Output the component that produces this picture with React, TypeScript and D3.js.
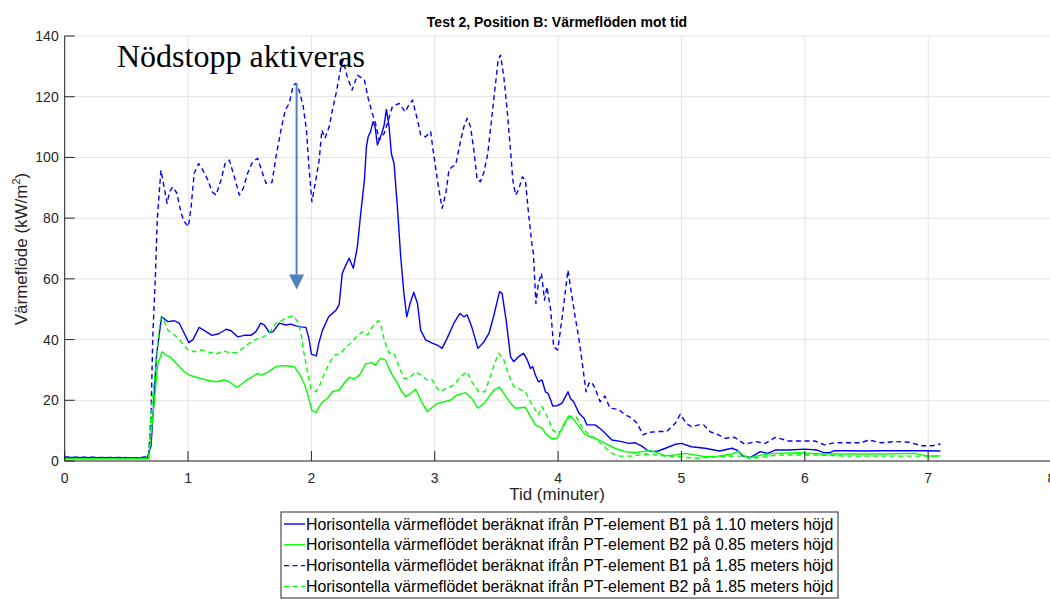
import React from "react";
import * as d3 from "d3";

type Pt = [number, number];

const xTickValues = [0, 1, 2, 3, 4, 5, 6, 7, 8];
const yTickValues = [0, 20, 40, 60, 80, 100, 120, 140];

const seriesNames = [
  "Horisontella värmeflödet beräknat ifrån PT-element B1 på 1.10 meters höjd",
  "Horisontella värmeflödet beräknat ifrån PT-element B2 på 0.85 meters höjd",
  "Horisontella värmeflödet beräknat ifrån PT-element B1 på 1.85 meters höjd",
  "Horisontella värmeflödet beräknat ifrån PT-element B2 på 1.85 meters höjd",
];
const seriesColors = ["#0000ff", "#00ff00", "#0000ff", "#00ff00"];
const seriesDashed = [false, false, true, true];

const b1Low: Pt[] = [[0,1.2],[0.3,1.1],[0.6,1.0],[0.67,1.1],[0.7,5],[0.72,18],[0.745,35],[0.785,47.5],[0.836,45.9],[0.89,46.2],[0.93,45.3],[0.97,42],[1.006,39],[1.04,40],[1.09,44],[1.146,42.6],[1.195,41.4],[1.254,42],[1.308,43.4],[1.349,42.9],[1.402,40.9],[1.456,41.4],[1.51,41.4],[1.55,42.6],[1.59,45.4],[1.618,44.8],[1.66,42.3],[1.69,42.6],[1.74,45.4],[1.794,44.8],[1.834,45.1],[1.874,44.5],[1.915,44.2],[1.955,44],[1.98,40.4],[2.0,35.2],[2.04,34.6],[2.06,38.8],[2.09,43.1],[2.14,47.5],[2.2,49.7],[2.225,51.5],[2.25,61.8],[2.28,64.6],[2.306,66.8],[2.34,63.5],[2.373,70.6],[2.40,81.6],[2.43,92.6],[2.446,103.5],[2.46,106.8],[2.48,108.5],[2.5,111.8],[2.516,110.1],[2.535,104.1],[2.55,105.7],[2.57,107.9],[2.59,110.7],[2.608,115.8],[2.63,110.1],[2.648,101.3],[2.67,98],[2.697,83.8],[2.724,67.3],[2.75,55.2],[2.773,47.5],[2.8,51.9],[2.83,55.6],[2.86,51.9],[2.886,43.1],[2.926,39.9],[2.98,38.8],[3.02,38.2],[3.06,37.1],[3.10,40.4],[3.155,45.4],[3.204,48.6],[3.236,47.5],[3.263,48.1],[3.30,44.2],[3.35,37.1],[3.40,39.3],[3.44,42.1],[3.48,48.1],[3.525,55.8],[3.546,55.2],[3.58,46],[3.614,34.4],[3.64,32.7],[3.68,34.4],[3.72,35.5],[3.75,33.3],[3.776,30.5],[3.794,31.1],[3.816,28.3],[3.84,26.1],[3.87,26.7],[3.897,22.8],[3.918,22.3],[3.94,20.1],[3.956,18.1],[3.99,18.2],[4.03,19],[4.06,21.2],[4.08,22.8],[4.10,20.6],[4.126,19.5],[4.17,15.7],[4.21,14.1],[4.234,11.9],[4.30,11.9],[4.355,10.2],[4.436,6.9],[4.517,6.4],[4.57,5.8],[4.625,6.0],[4.68,4.9],[4.72,3.6],[4.76,3.1],[4.81,3.3],[4.87,4.2],[4.95,5.5],[5.0,5.8],[5.08,4.7],[5.19,4.2],[5.31,3.3],[5.41,4.2],[5.45,3.6],[5.50,1.6],[5.56,1.2],[5.64,3.1],[5.70,2.5],[5.76,3.6],[5.87,3.6],[6.0,3.9],[6.1,3.6],[6.16,2.7],[6.20,2.7],[6.24,3.4],[6.35,3.4],[6.49,3.3],[6.62,3.4],[6.78,3.4],[6.97,3.4],[7.10,3.3]];

const b2Low: Pt[] = [[0,0.8],[0.3,0.7],[0.6,0.7],[0.68,0.8],[0.69,4.7],[0.73,21],[0.755,32],[0.79,36],[0.82,34.9],[0.86,34.1],[0.917,31.6],[0.97,29.4],[1.01,28.3],[1.066,27.6],[1.146,26.7],[1.227,26.1],[1.294,26.7],[1.335,26.1],[1.394,24.3],[1.443,25.6],[1.483,26.9],[1.524,27.8],[1.564,28.9],[1.59,28.3],[1.632,28.9],[1.672,30],[1.713,31.1],[1.753,31.4],[1.82,31.3],[1.86,31.1],[1.90,28.9],[1.94,25.6],[1.968,22.3],[2.004,16.6],[2.036,15.9],[2.063,17.9],[2.09,19.5],[2.13,20.6],[2.17,22.8],[2.225,23.4],[2.265,25.6],[2.306,27.6],[2.346,27],[2.39,28.3],[2.44,32],[2.49,32.4],[2.52,31.6],[2.56,33.8],[2.60,33.3],[2.63,30.5],[2.656,28.3],[2.70,25.6],[2.724,23.4],[2.765,21.2],[2.805,22.3],[2.845,23.6],[2.886,20.1],[2.94,16.2],[2.98,17.7],[3.02,19],[3.074,19.5],[3.13,20.1],[3.18,21.7],[3.25,22.5],[3.30,20.6],[3.35,17.4],[3.40,19],[3.44,21.2],[3.48,23.4],[3.525,24.3],[3.57,21.7],[3.614,19],[3.655,17.4],[3.735,17.7],[3.776,14.6],[3.816,11.9],[3.84,11.3],[3.87,10.8],[3.897,9.1],[3.92,8.3],[3.95,7.3],[3.99,7.5],[4.03,10.5],[4.05,12.4],[4.086,14.9],[4.126,13.7],[4.17,11.3],[4.22,8.6],[4.30,7.5],[4.38,5.8],[4.46,4.2],[4.54,3.1],[4.625,2.7],[4.68,3.1],[4.745,3.4],[4.81,2.7],[4.87,1.7],[4.95,2],[5.03,2.5],[5.11,2],[5.19,1.4],[5.30,1.6],[5.41,2.3],[5.46,3.1],[5.54,0.9],[5.65,2],[5.76,2.5],[5.95,2.7],[6.13,2.3],[6.35,2.3],[6.62,2.3],[6.89,2.5],[7.0,1.6],[7.10,1.7]];

const b1High: Pt[] = [[0,1.3],[0.3,1.2],[0.6,1.1],[0.68,1.5],[0.7,15],[0.714,41],[0.736,61.8],[0.75,79.4],[0.77,90.3],[0.78,95.8],[0.80,91.5],[0.83,84.9],[0.85,88.7],[0.876,90.3],[0.91,88.2],[0.944,81.6],[0.97,78.8],[1.003,77.2],[1.025,83.8],[1.05,94.8],[1.087,98],[1.12,95.8],[1.16,92.6],[1.195,88.7],[1.227,87.6],[1.268,92.6],[1.30,98],[1.335,99.1],[1.375,93.6],[1.416,87.6],[1.448,89.8],[1.483,94.8],[1.524,98.6],[1.564,99.7],[1.60,95.3],[1.632,91.5],[1.68,91.7],[1.713,100.2],[1.753,109],[1.788,115.6],[1.82,117.8],[1.853,123.8],[1.875,124.4],[1.90,122.2],[1.934,116.7],[1.96,109],[1.98,96.9],[2.004,85.4],[2.036,92.6],[2.063,99.1],[2.085,109],[2.11,106.3],[2.144,110.1],[2.17,115.6],[2.20,121.1],[2.24,129.9],[2.257,132.1],[2.29,126.6],[2.33,122.2],[2.373,127.1],[2.43,125.5],[2.46,119.5],[2.494,114.5],[2.52,111.2],[2.55,105.7],[2.59,107.9],[2.616,111.2],[2.656,116.7],[2.71,117.8],[2.76,115],[2.79,117.3],[2.82,118.9],[2.86,112.3],[2.886,107.4],[2.926,106.8],[2.967,108.5],[2.99,101.3],[3.03,90.3],[3.06,83.2],[3.09,88.2],[3.115,95.8],[3.14,96.9],[3.17,97.5],[3.21,105.7],[3.236,110.1],[3.263,112.9],[3.29,110.1],[3.317,102.4],[3.344,92.6],[3.37,92],[3.40,95.3],[3.43,101.3],[3.46,112.3],[3.49,123.3],[3.514,132.1],[3.533,133.7],[3.56,126.6],[3.587,115.6],[3.614,102.4],[3.633,92.6],[3.655,87.6],[3.68,89.3],[3.71,93.6],[3.735,92.6],[3.76,81.6],[3.79,70.6],[3.80,68.4],[3.82,51.9],[3.84,58.5],[3.865,61.8],[3.89,53],[3.91,57.4],[3.94,49.7],[3.964,37.6],[3.997,36.6],[4.03,46.4],[4.06,56.3],[4.08,62.9],[4.10,57.4],[4.134,48.6],[4.17,39.9],[4.20,31.1],[4.226,22.8],[4.25,25.6],[4.27,26.1],[4.30,23.9],[4.34,19.5],[4.38,21.4],[4.42,17.4],[4.49,17],[4.544,15.2],[4.60,14.1],[4.64,12.4],[4.69,8.6],[4.73,9.4],[4.81,9.7],[4.88,9.7],[4.95,12.4],[4.99,15.4],[5.04,12.4],[5.08,11.3],[5.14,11.9],[5.18,11.9],[5.23,9.7],[5.30,8.6],[5.35,7.5],[5.43,7.8],[5.515,5.5],[5.60,6.4],[5.68,5.8],[5.76,7.8],[5.87,6.6],[6.0,6.6],[6.08,6.6],[6.16,5.3],[6.24,6.0],[6.35,6.0],[6.45,6.0],[6.52,6.9],[6.62,6.0],[6.73,6.4],[6.84,6.2],[6.95,5.0],[7.03,5.0],[7.10,5.6]];

const b2High: Pt[] = [[0,0.8],[0.3,0.8],[0.6,0.8],[0.68,1],[0.70,15.7],[0.74,32],[0.774,46.4],[0.795,47.3],[0.836,43.1],[0.89,41.5],[0.944,39.3],[0.998,36.6],[1.05,36],[1.106,36.6],[1.173,35.8],[1.227,35.2],[1.28,36.3],[1.335,35.7],[1.39,35.7],[1.443,37.1],[1.497,38.8],[1.55,40.1],[1.605,40.7],[1.66,42.3],[1.713,45.4],[1.766,46.4],[1.807,47.3],[1.85,47.8],[1.89,45.9],[1.915,42.1],[1.94,35.5],[1.97,28.9],[1.996,23.9],[2.036,22.8],[2.063,24.5],[2.10,28.3],[2.144,32.2],[2.185,34.9],[2.24,35.5],[2.28,37.6],[2.32,38.8],[2.36,40.7],[2.413,42.6],[2.455,41.5],[2.494,44.2],[2.543,46.2],[2.56,45.4],[2.59,39.9],[2.63,35.5],[2.67,35.5],[2.71,31.1],[2.75,27.2],[2.79,27.2],[2.845,29.4],[2.886,28.3],[2.94,26.7],[2.98,26.7],[3.02,23.9],[3.05,22.8],[3.09,23.9],[3.155,25],[3.21,27.8],[3.263,29.4],[3.30,26.1],[3.357,22.8],[3.406,22.8],[3.45,27.8],[3.49,32.7],[3.52,35.5],[3.56,33.3],[3.60,28.3],[3.64,24.5],[3.695,23.6],[3.735,22.8],[3.776,19.5],[3.816,16.8],[3.84,15.2],[3.87,17.9],[3.897,15.7],[3.92,14.1],[3.95,10.5],[3.99,9.1],[4.03,10.2],[4.07,13.5],[4.11,14.8],[4.15,14.4],[4.19,11.3],[4.25,8.6],[4.315,6.9],[4.38,4.5],[4.436,2.5],[4.50,1.6],[4.60,1.6],[4.71,2.3],[4.79,2],[4.87,1.6],[4.98,1.4],[5.11,0.9],[5.19,1.1],[5.30,1.4],[5.41,1.6],[5.52,1.6],[5.57,0.9],[5.68,1.4],[5.78,2],[6.08,2],[6.35,1.6],[6.62,1.6],[6.89,1.6],[7.10,1.6]];

const allSeries = [b1Low, b2Low, b1High, b2High];

const annotationText = "Nödstopp aktiveras";
const annotationTime = 1.88;
const arrowFrom = 124.5;
const arrowTo = 56.5;

const W = 1050;
const H = 599;

export default function App() {
  const x = d3.scaleLinear().domain([0, 8]).range([64.7, 1051.5]);
  const y = d3.scaleLinear().domain([0, 140]).range([461, 36]);
  const line = d3
    .line<Pt>()
    .x((d) => x(d[0]))
    .y((d) => y(d[1]))
    .curve(d3.curveLinear);

  const axisColor = "#262626";
  const gridColor = "#e3e3e3";
  const font = "'Liberation Sans', Arial, Helvetica, sans-serif";
  const ax = x(annotationTime);

  const legendX = 281;
  const legendY = 512;
  const legendW = 557;
  const rowH = 20.8;

  return (
    <svg
      width={W}
      height={H}
      style={{ position: "absolute", left: 0, top: 0, background: "#fff" }}
      fontFamily={font}
    >
      <rect x={0} y={0} width={W} height={H} fill="#fff" />
      {/* grid */}
      {xTickValues.map((t) => (
        <line key={"gx" + t} x1={x(t)} x2={x(t)} y1={y(0)} y2={y(140)} stroke={gridColor} strokeWidth={1} />
      ))}
      {yTickValues.map((t) => (
        <line key={"gy" + t} x1={x(0)} x2={x(8)} y1={y(t)} y2={y(t)} stroke={gridColor} strokeWidth={1} />
      ))}
      {/* series */}
      {allSeries.map((s, i) => (
        <path
          key={"s" + i}
          d={line(s) || ""}
          fill="none"
          stroke={seriesColors[i]}
          strokeWidth={1.4}
          strokeDasharray={seriesDashed[i] ? "5,3.5" : undefined}
          strokeLinejoin="round"
        />
      ))}
      {/* axes */}
      <line x1={x(0)} x2={x(8)} y1={y(0)} y2={y(0)} stroke={axisColor} strokeWidth={1} />
      <line x1={x(0)} x2={x(0)} y1={y(0)} y2={y(140)} stroke={axisColor} strokeWidth={1} />
      {xTickValues.map((t) => (
        <g key={"xt" + t}>
          <line x1={x(t)} x2={x(t)} y1={y(0)} y2={y(0) - 10} stroke={axisColor} strokeWidth={1} />
          <text x={x(t)} y={y(0) + 22} textAnchor="middle" fontSize={14} fill={axisColor}>
            {t}
          </text>
        </g>
      ))}
      {yTickValues.map((t) => (
        <g key={"yt" + t}>
          <line x1={x(0)} x2={x(0) + 10} y1={y(t)} y2={y(t)} stroke={axisColor} strokeWidth={1} />
          <text x={x(0) - 6} y={y(t) + 5} textAnchor="end" fontSize={14} fill={axisColor}>
            {t}
          </text>
        </g>
      ))}
      {/* title and labels */}
      <text x={557} y={27} textAnchor="middle" fontSize={14} fontWeight="bold" fill="#000">
        Test 2, Position B: Värmeflöden mot tid
      </text>
      <text x={557} y={500} textAnchor="middle" fontSize={17} fill={axisColor}>
        Tid (minuter)
      </text>
      <text
        transform={`translate(27,249) rotate(-90)`}
        textAnchor="middle"
        fontSize={17}
        fill={axisColor}
      >
        Värmeflöde (kW/m<tspan dy={-7} fontSize={11}>2</tspan>
        <tspan dy={7}>)</tspan>
      </text>
      {/* annotation */}
      <text
        x={117}
        y={67}
        fontFamily="'Liberation Serif', 'Times New Roman', serif"
        fontSize={32}
        fill="#000"
      >
        {annotationText}
      </text>
      <line x1={ax} x2={ax} y1={y(arrowFrom)} y2={y(arrowTo) - 14} stroke="#4f81bd" strokeWidth={2} />
      <path
        d={`M${ax - 7.5},${y(arrowTo) - 15} L${ax + 7.5},${y(arrowTo) - 15} L${ax},${y(arrowTo)} Z`}
        fill="#4f81bd"
      />
      {/* legend */}
      <rect x={legendX} y={legendY} width={legendW} height={86} fill="#fff" stroke={axisColor} strokeWidth={1} />
      {seriesNames.map((name, i) => {
        const cy = legendY + 12 + i * rowH;
        return (
          <g key={"lg" + i}>
            <line
              x1={legendX + 3}
              x2={legendX + 24}
              y1={cy}
              y2={cy}
              stroke={seriesColors[i]}
              strokeWidth={1.4}
              strokeDasharray={seriesDashed[i] ? "5,3.5" : undefined}
            />
            <text x={legendX + 25} y={cy + 5.5} fontSize={15.9} fill="#000">
              {name}
            </text>
          </g>
        );
      })}
    </svg>
  );
}
